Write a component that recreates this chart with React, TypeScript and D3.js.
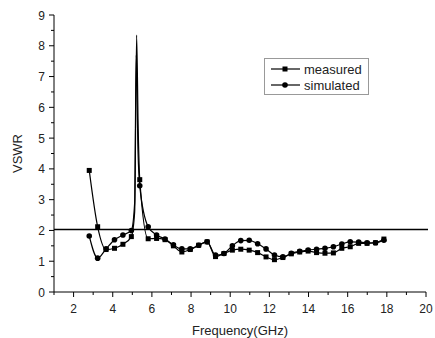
import * as React from 'react';
import * as d3 from 'd3';

// frequency points carrying a marker (GHz)
const freq = [2.8, 3.23, 3.66, 4.09, 4.52, 4.95, 5.38, 5.81, 6.24, 6.67, 7.1, 7.53, 7.96, 8.39, 8.82, 9.25, 9.68, 10.11, 10.54, 10.97, 11.4, 11.83, 12.26, 12.69, 13.12, 13.55, 13.98, 14.41, 14.84, 15.27, 15.7, 16.13, 16.56, 16.99, 17.42, 17.85];
const measured = [3.95, 2.12, 1.38, 1.42, 1.55, 1.8, 3.65, 1.73, 1.74, 1.7, 1.5, 1.3, 1.38, 1.52, 1.63, 1.15, 1.25, 1.36, 1.39, 1.36, 1.28, 1.14, 1.05, 1.12, 1.24, 1.3, 1.33, 1.28, 1.26, 1.27, 1.42, 1.47, 1.58, 1.58, 1.6, 1.72];
const simulated = [1.82, 1.1, 1.4, 1.7, 1.85, 2.0, 3.45, 2.12, 1.85, 1.72, 1.53, 1.4, 1.4, 1.52, 1.63, 1.2, 1.25, 1.5, 1.67, 1.68, 1.57, 1.4, 1.2, 1.14, 1.26, 1.32, 1.36, 1.39, 1.42, 1.47, 1.56, 1.63, 1.62, 1.6, 1.6, 1.68];

// resonance spike (line only, no markers)
const measuredPeakFreq = [5.12, 5.22, 5.3];
const measuredPeak = [2.6, 8.35, 5.3];
const simulatedPeakFreq = [5.12, 5.2, 5.29];
const simulatedPeak = [2.9, 7.7, 4.6];

const xTicks = [2, 4, 6, 8, 10, 12, 14, 16, 18, 20];
const yTicks = [0, 1, 2, 3, 4, 5, 6, 7, 8, 9];
const threshold = 2.03;

const legendItems = ['measured', 'simulated'];

const W = 435, H = 338;
const left = 54, right = 426, top = 15, bottom = 292;

const App: React.FC = () => {
  const x = d3.scaleLinear().domain([1, 20]).range([left, right]);
  const y = d3.scaleLinear().domain([0, 9]).range([bottom, top]);

  const merge = (fx: number[], vy: number[], pf: number[], pv: number[]) =>
    fx.map((f, i) => [f, vy[i]] as [number, number])
      .concat(pf.map((f, i) => [f, pv[i]] as [number, number]))
      .sort((a, b) => a[0] - b[0]);

  const line = d3.line<[number, number]>()
    .x(d => x(d[0]))
    .y(d => y(d[1]))
    .curve(d3.curveMonotoneX);

  const mPath = line(merge(freq, measured, measuredPeakFreq, measuredPeak)) || '';
  const sPath = line(merge(freq, simulated, simulatedPeakFreq, simulatedPeak)) || '';

  const minorX = d3.range(1, 21, 1).filter(v => v % 2 === 1);
  const minorY = d3.range(0.5, 9, 1);
  const font = 'Arial, "Liberation Sans", sans-serif';

  return (
    <svg width={W} height={H} style={{ position: 'absolute', left: 0, top: 0, background: '#fff' }} fontFamily={font}>
      {/* axes */}
      <line x1={left} x2={left} y1={top} y2={bottom} stroke="#000" strokeWidth={1} />
      <line x1={left} x2={right} y1={bottom} y2={bottom} stroke="#000" strokeWidth={1} />
      {xTicks.map(t => (
        <g key={'x' + t}>
          <line x1={x(t)} x2={x(t)} y1={bottom} y2={bottom + 5} stroke="#000" />
          <text x={x(t)} y={313} fontSize={12} textAnchor="middle" fill="#222">{t}</text>
        </g>
      ))}
      {minorX.map(t => (
        <line key={'mx' + t} x1={x(t)} x2={x(t)} y1={bottom} y2={bottom + 3} stroke="#000" />
      ))}
      {yTicks.map(t => (
        <g key={'y' + t}>
          <line x1={left - 5} x2={left} y1={y(t)} y2={y(t)} stroke="#000" />
          <text x={45} y={y(t) + 4.5} fontSize={12} textAnchor="end" fill="#222">{t}</text>
        </g>
      ))}
      {minorY.map(t => (
        <line key={'my' + t} x1={left - 3} x2={left} y1={y(t)} y2={y(t)} stroke="#000" />
      ))}
      <text x={H > 0 ? 22 : 0} y={(top + bottom) / 2} fontSize={13} textAnchor="middle" fill="#222"
        transform={`rotate(-90, 22, ${(top + bottom) / 2})`}>VSWR</text>
      <text x={(left + right) / 2} y={335} fontSize={13} textAnchor="middle" fill="#222">Frequency(GHz)</text>

      {/* threshold line */}
      <line x1={left} x2={428} y1={y(threshold)} y2={y(threshold)} stroke="#000" strokeWidth={1.5} />

      {/* series */}
      <path d={mPath} fill="none" stroke="#000" strokeWidth={1.2} />
      <path d={sPath} fill="none" stroke="#000" strokeWidth={1.2} />
      {freq.map((f, i) => (
        <rect key={'m' + i} x={x(f) - 2.5} y={y(measured[i]) - 2.5} width={5} height={5} fill="#000" />
      ))}
      {freq.map((f, i) => (
        <circle key={'s' + i} cx={x(f)} cy={y(simulated[i])} r={2.8} fill="#000" />
      ))}

      {/* legend */}
      <rect x={264.5} y={58.5} width={104} height={36} fill="#fff" stroke="#999" strokeWidth={1} />
      {legendItems.map((name, i) => {
        const ly = 69 + i * 16;
        return (
          <g key={name}>
            <line x1={271} x2={300} y1={ly} y2={ly} stroke="#000" strokeWidth={1.2} />
            {i === 0
              ? <rect x={282.5} y={ly - 2.5} width={5} height={5} fill="#000" />
              : <circle cx={285} cy={ly} r={2.8} fill="#000" />}
            <text x={304} y={ly + 4.5} fontSize={13} fill="#222">{name}</text>
          </g>
        );
      })}
    </svg>
  );
};

export default App;
